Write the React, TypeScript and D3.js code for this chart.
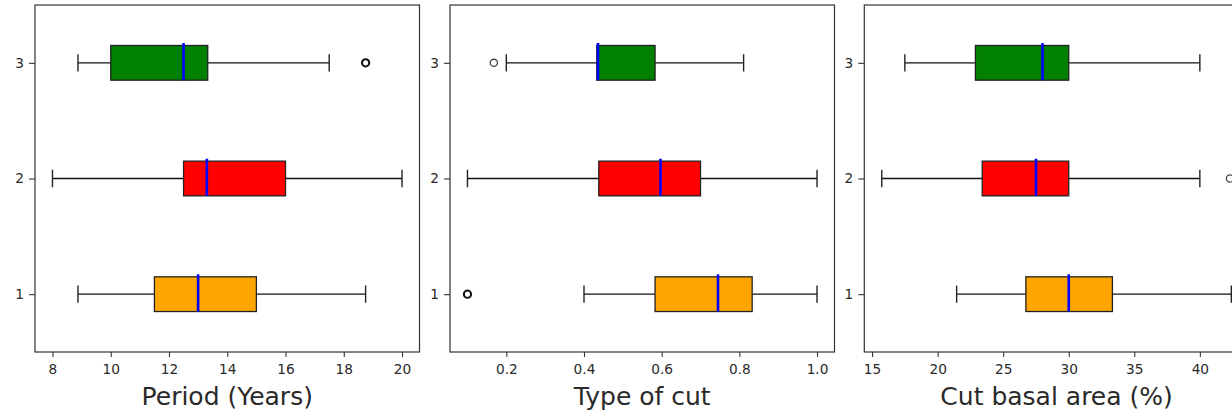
import React, { useRef, useEffect } from "react";
import * as d3 from "d3";

// box stats per category 1, 2, 3: [whisker low, q1, median, q3, whisker high]
const categories = [1, 2, 3];

const periodBoxes = [
  [8.875, 11.5, 13.0, 15.0, 18.75],
  [8.0, 12.5, 13.3, 16.0, 20.0],
  [8.875, 10.0, 12.5, 13.33, 17.5],
];
const periodOutliers = [[], [], [18.75, 18.75]];
const periodTicks = [8, 10, 12, 14, 16, 18, 20];

const cutTypeBoxes = [
  [0.4, 0.583, 0.745, 0.833, 1.0],
  [0.1, 0.438, 0.597, 0.7, 1.0],
  [0.2, 0.433, 0.436, 0.583, 0.811],
];
const cutTypeOutliers = [[0.1, 0.1, 0.1], [], [0.168]];
const cutTypeTicks = [0.2, 0.4, 0.6, 0.8, 1.0];

const basalBoxes = [
  [21.45, 26.73, 30.0, 33.33, 42.4],
  [15.74, 23.4, 27.5, 30.0, 40.0],
  [17.5, 22.88, 28.0, 30.0, 40.0],
];
const basalOutliers = [[], [42.3], []];
const basalTicks = [15, 20, 25, 30, 35, 40, 45];

const boxColors = ["orange", "red", "green"];

const panels = [
  { label: "Period (Years)", boxes: periodBoxes, outliers: periodOutliers, ticks: periodTicks, fmt: d3.format("d") },
  { label: "Type of cut", boxes: cutTypeBoxes, outliers: cutTypeOutliers, ticks: cutTypeTicks, fmt: d3.format(".1f") },
  { label: "Cut basal area (%)", boxes: basalBoxes, outliers: basalOutliers, ticks: basalTicks, fmt: d3.format("d") },
];

export default function App() {
  const svgRef = useRef<SVGSVGElement>(null);
  const width = 1232;
  const height = 411;

  useEffect(() => {
    if (!svgRef.current) return;
    const svg = d3.select(svgRef.current);
    svg.selectAll("*").remove();

    const top = 5;
    const plotH = 347;
    const plotW = 384.5;
    const lefts = [35, 450, 864.3];
    const font = "DejaVu Sans, sans-serif";
    const ink = "#2a2a2a";

    panels.forEach((p, i) => {
      const all = p.boxes.flat().concat(p.outliers.flat());
      const [lo, hi] = d3.extent(all) as [number, number];
      const pad = (hi - lo) * 0.05;
      const x = d3.scaleLinear().domain([lo - pad, hi + pad]).range([0, plotW]);
      const y = d3.scaleLinear().domain([0.5, 3.5]).range([plotH, 0]);

      const g = svg.append("g").attr("transform", `translate(${lefts[i]},${top})`);

      const clipId = `clip-${i}`;
      g.append("clipPath").attr("id", clipId)
        .append("rect").attr("width", plotW).attr("height", plotH);
      const plot = g.append("g").attr("clip-path", `url(#${clipId})`);

      p.boxes.forEach((b, k) => {
        const c = categories[k];
        const [wl, q1, med, q3, wh] = b;
        const yc = y(c);
        const halfBox = (y(c - 0.15) - y(c + 0.15)) / 2;
        const halfCap = halfBox / 2;

        // whiskers
        plot.append("line").attr("x1", x(wl)).attr("x2", x(q1)).attr("y1", yc).attr("y2", yc)
          .attr("stroke", "#111").attr("stroke-width", 1.3);
        plot.append("line").attr("x1", x(q3)).attr("x2", x(wh)).attr("y1", yc).attr("y2", yc)
          .attr("stroke", "#111").attr("stroke-width", 1.3);
        // caps
        [wl, wh].forEach(v => {
          plot.append("line").attr("x1", x(v)).attr("x2", x(v))
            .attr("y1", yc - halfCap).attr("y2", yc + halfCap)
            .attr("stroke", "#222").attr("stroke-width", 1.4);
        });
        // box
        plot.append("rect")
          .attr("x", x(q1)).attr("y", yc - halfBox)
          .attr("width", x(q3) - x(q1)).attr("height", halfBox * 2)
          .attr("fill", boxColors[k]).attr("stroke", "#222").attr("stroke-width", 1.3);
        // median
        plot.append("line").attr("x1", x(med)).attr("x2", x(med))
          .attr("y1", yc - halfBox - 2.5).attr("y2", yc + halfBox)
          .attr("stroke", "blue").attr("stroke-width", 2.6);
        // fliers (overlapping ones look heavier)
        const counts = d3.rollup(p.outliers[k], v => v.length, v => v);
        counts.forEach((n, v) => {
          plot.append("circle").attr("cx", x(v)).attr("cy", yc).attr("r", 3.6)
            .attr("fill", "none").attr("stroke", n > 1 ? "#111" : "#444")
            .attr("stroke-width", n > 1 ? 2.1 : 1.3);
        });
      });

      // x axis
      const xAxis = g.append("g").attr("transform", `translate(0,${plotH})`)
        .call(d3.axisBottom(x).tickValues(p.ticks.filter(t => x(t) <= plotW + 0.5))
          .tickFormat(p.fmt as any).tickSize(5).tickPadding(7));
      xAxis.select(".domain").remove();
      xAxis.selectAll("line").attr("stroke", "#333").attr("stroke-width", 1.1);
      xAxis.selectAll("text").attr("font-size", 13.7).attr("font-family", font).attr("fill", ink);

      // y axis
      const yAxis = g.append("g")
        .call(d3.axisLeft(y).tickValues(categories).tickFormat(d3.format("d") as any).tickSize(6).tickPadding(5));
      yAxis.select(".domain").remove();
      yAxis.selectAll("line").attr("stroke", "#333").attr("stroke-width", 1.1);
      yAxis.selectAll("text").attr("font-size", 13.7).attr("font-family", font).attr("fill", ink);

      // frame
      g.append("rect").attr("width", plotW).attr("height", plotH)
        .attr("fill", "none").attr("stroke", "#333").attr("stroke-width", 1.2);

      // x label
      g.append("text")
        .attr("x", plotW / 2).attr("y", 400)
        .attr("text-anchor", "middle")
        .attr("font-size", 25).attr("font-family", font).attr("fill", ink)
        .text(p.label);
    });
  }, []);

  return (
    <svg
      ref={svgRef}
      width={width}
      height={height}
      style={{ position: "absolute", left: 0, top: 0, background: "white" }}
    />
  );
}
